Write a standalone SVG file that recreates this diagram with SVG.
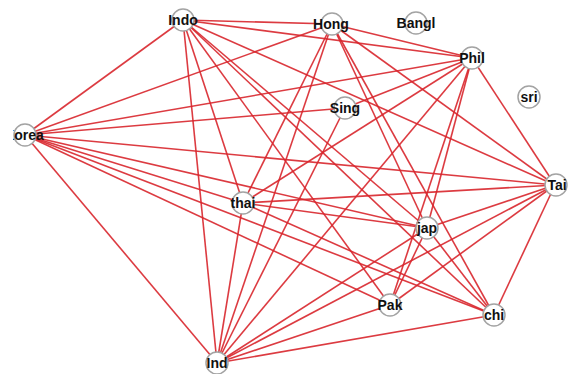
<svg xmlns="http://www.w3.org/2000/svg" width="568" height="374" viewBox="0 0 568 374">
<style>
.e{stroke:#d8262c;stroke-width:1.6;stroke-opacity:0.9;fill:none}
.n circle{fill:#fff;stroke:#a3a3a3;stroke-width:1.5}
.n text{font-family:"Liberation Sans",Arial,sans-serif;font-weight:bold;font-size:14px;fill:#111;text-anchor:middle}
</style>
<defs><clipPath id="kc"><rect x="13" y="0" width="555" height="374"/></clipPath></defs>
<rect width="568" height="374" fill="#fff"/>
<g id="edges" class="e">
<line x1="183" y1="20" x2="25" y2="135"/>
<line x1="183" y1="20" x2="332" y2="24"/>
<line x1="183" y1="20" x2="472" y2="58"/>
<line x1="183" y1="20" x2="555" y2="185"/>
<line x1="183" y1="20" x2="427" y2="228"/>
<line x1="183" y1="20" x2="494" y2="315"/>
<line x1="183" y1="20" x2="390" y2="305"/>
<line x1="183" y1="20" x2="243" y2="203"/>
<line x1="183" y1="20" x2="217" y2="363"/>
<line x1="332" y1="24" x2="25" y2="135"/>
<line x1="332" y1="24" x2="472" y2="58"/>
<line x1="332" y1="24" x2="555" y2="185"/>
<line x1="332" y1="24" x2="427" y2="228"/>
<line x1="332" y1="24" x2="494" y2="315"/>
<line x1="332" y1="24" x2="243" y2="203"/>
<line x1="332" y1="24" x2="217" y2="363"/>
<line x1="472" y1="58" x2="25" y2="135"/>
<line x1="472" y1="58" x2="345" y2="108"/>
<line x1="472" y1="58" x2="243" y2="203"/>
<line x1="472" y1="58" x2="555" y2="185"/>
<line x1="472" y1="58" x2="427" y2="228"/>
<line x1="472" y1="58" x2="390" y2="305"/>
<line x1="472" y1="58" x2="217" y2="363"/>
<line x1="345" y1="108" x2="25" y2="135"/>
<line x1="345" y1="108" x2="217" y2="363"/>
<line x1="25" y1="135" x2="555" y2="185"/>
<line x1="25" y1="135" x2="427" y2="228"/>
<line x1="25" y1="135" x2="243" y2="203"/>
<line x1="25" y1="135" x2="494" y2="315"/>
<line x1="25" y1="135" x2="390" y2="305"/>
<line x1="25" y1="135" x2="217" y2="363"/>
<line x1="555" y1="185" x2="243" y2="203"/>
<line x1="555" y1="185" x2="427" y2="228"/>
<line x1="555" y1="185" x2="390" y2="305"/>
<line x1="555" y1="185" x2="494" y2="315"/>
<line x1="555" y1="185" x2="217" y2="363"/>
<line x1="243" y1="203" x2="427" y2="228"/>
<line x1="243" y1="203" x2="494" y2="315"/>
<line x1="243" y1="203" x2="217" y2="363"/>
<line x1="427" y1="228" x2="390" y2="305"/>
<line x1="427" y1="228" x2="494" y2="315"/>
<line x1="427" y1="228" x2="217" y2="363"/>
<line x1="390" y1="305" x2="217" y2="363"/>
<line x1="494" y1="315" x2="217" y2="363"/>
</g>
<g id="Indo" class="n"><circle cx="183" cy="20" r="11"/><text x="183" y="25">Indo</text></g>
<g id="Hong" class="n"><circle cx="332" cy="24" r="11"/><text x="331" y="29">Hong</text></g>
<g id="Bangl" class="n"><circle cx="416" cy="23" r="11"/><text x="416" y="28">Bangl</text></g>
<g id="Phil" class="n"><circle cx="472" cy="58" r="11"/><text x="472" y="63">Phil</text></g>
<g id="sri" class="n"><circle cx="529" cy="97" r="11"/><text x="529" y="102">sri</text></g>
<g id="Sing" class="n"><circle cx="345" cy="108" r="11"/><text x="345" y="113">Sing</text></g>
<g id="Korea" class="n"><circle cx="25" cy="135" r="11"/><text x="24" y="140" clip-path="url(#kc)">Korea</text></g>
<g id="Tai" class="n"><circle cx="556" cy="185" r="11"/><text x="557" y="190">Tai</text></g>
<g id="thai" class="n"><circle cx="243" cy="203" r="11"/><text x="243" y="208">thai</text></g>
<g id="jap" class="n"><circle cx="427" cy="228" r="11"/><text x="427" y="233">jap</text></g>
<g id="Pak" class="n"><circle cx="390" cy="305" r="11"/><text x="390" y="310">Pak</text></g>
<g id="chi" class="n"><circle cx="494" cy="315" r="11"/><text x="494" y="320">chi</text></g>
<g id="Ind" class="n"><circle cx="217" cy="363" r="11"/><text x="217" y="368">Ind</text></g>
</svg>
